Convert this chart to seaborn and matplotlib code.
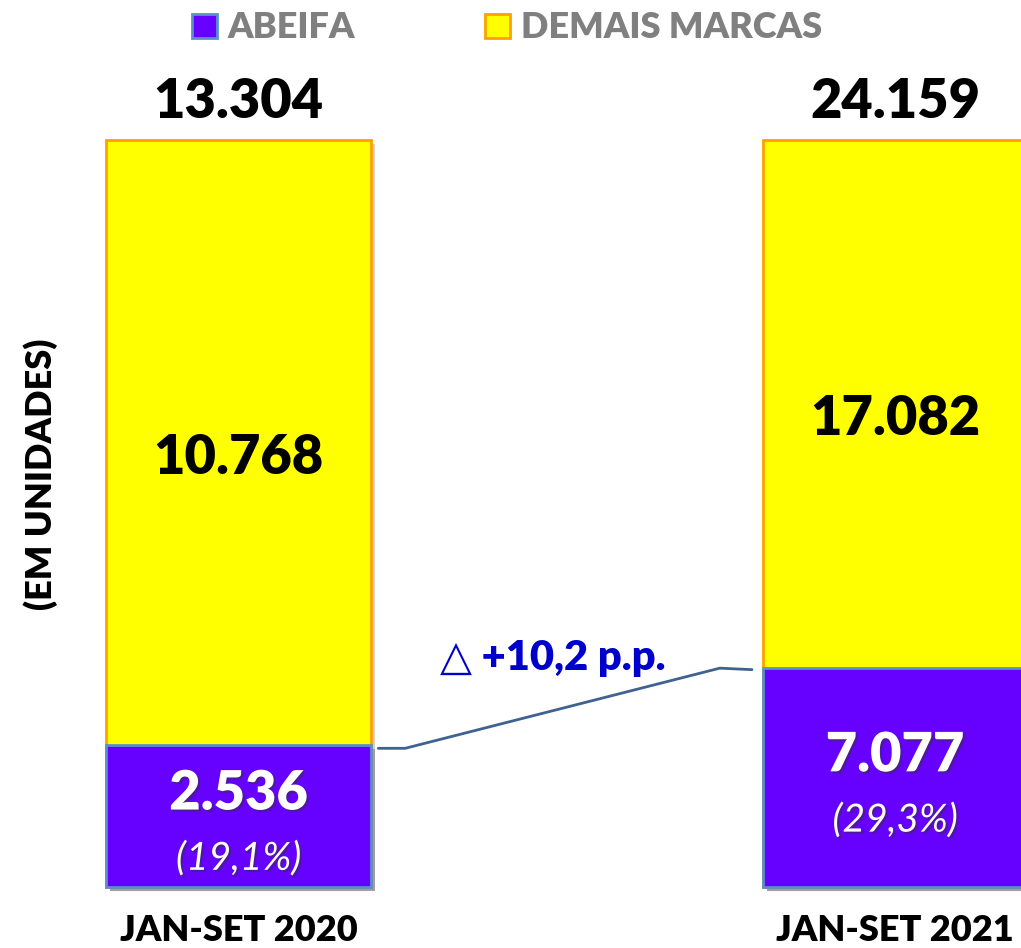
import numpy as np
import pandas as pd
import seaborn as sns
import matplotlib.pyplot as plt
import matplotlib.patheffects as pe
from matplotlib.patches import Patch

periods = ['JAN-SET 2020', 'JAN-SET 2021']
abeifa = [2536, 7077]
demais = [10768, 17082]
totals = [13304, 24159]
delta_label = '\u25b3 +10,2 p.p.'

shares = [100 * a / t for a, t in zip(abeifa, totals)]

sns.set_style('white')
plt.rcParams['font.family'] = ['Lato', 'DejaVu Sans']

PURPLE = '#6600FF'
YELLOW = '#FFFF00'
W = 'heavy'


def fmt(v):
    return f'{v:,}'.replace(',', '.')


df = pd.DataFrame({'period': periods, 'full': [100, 100], 'share': shares})

fig = plt.figure(figsize=(10.21, 9.48), dpi=100)
ax = fig.add_axes([0, 0, 1, 1])

width = 0.4037
shadow = [pe.SimplePatchShadow(offset=(3, -3), alpha=0.25), pe.Normal()]
sns.barplot(data=df, x='period', y='full', color=YELLOW, width=width,
            saturation=1, edgecolor='#FFA000', linewidth=2, ax=ax)
sns.barplot(data=df, x='period', y='share', color=PURPLE, width=width,
            saturation=1, edgecolor='#5B8FC8', linewidth=2, ax=ax)
for p in ax.patches:
    p.set_path_effects(shadow)

ax.set_xlim(-0.3633, 1.1919)
ax.set_ylim(-8.17, 118.74)
ax.axis('off')

txt_shadow = [pe.withSimplePatchShadow(offset=(1.5, -1.5), alpha=0.5, shadow_rgbFace='#333333')]
for i in range(2):
    ax.annotate(fmt(totals[i]), (i, 100), xytext=(0, 27), textcoords='offset points',
                ha='center', va='center', fontsize=39, fontweight=W, color='black')
    ymid = (shares[i] + 100) / 2
    ax.annotate(fmt(demais[i]), (i, ymid), xytext=(0, -11), textcoords='offset points',
                ha='center', va='center', fontsize=39, fontweight=W, color='black')
    pmid = shares[i] / 2
    ax.annotate(fmt(abeifa[i]), (i, pmid), xytext=(0, 16), textcoords='offset points',
                ha='center', va='center', fontsize=39, fontweight=W, color='white',
                path_effects=txt_shadow)
    ax.annotate(f'({shares[i]:.1f}%)'.replace('.', ','), (i, pmid), xytext=(0, -31),
                textcoords='offset points', ha='center', va='center', fontsize=28,
                fontstyle='italic', color='white', path_effects=txt_shadow)
    ax.annotate(periods[i], (i, 0), xytext=(0, -31), textcoords='offset points',
                ha='center', va='center', fontsize=26, fontweight=W, color='black')

# connector between the ABEIFA segments
edge = width / 2
xs = [edge + 0.011, edge + 0.052, 1 - edge - 0.065, 1 - edge - 0.016]
ys = [shares[0] - 0.5, shares[0] - 0.5, shares[1], shares[1] - 0.2]
ax.plot(xs, ys, color='#3F6290', lw=2)
ax.annotate(delta_label, (0.5, shares[1]), xytext=(-10, 7), textcoords='offset points',
            ha='center', va='center', fontsize=30, fontweight=W, color='#0000CC')

ax.text(0.04, 0.5, '(EM UNIDADES)', transform=fig.transFigure, rotation=90,
        ha='center', va='center', fontsize=26, fontweight=W, color='black')

handles = [Patch(facecolor=PURPLE, edgecolor='#5B8FC8', linewidth=2, label='ABEIFA'),
           Patch(facecolor=YELLOW, edgecolor='#FFA000', linewidth=2, label='DEMAIS MARCAS')]
fig.legend(handles=handles, loc='center left', bbox_to_anchor=(192 / 1021, 1 - 28 / 948),
           ncol=2, frameon=False, prop={'size': 26, 'weight': W}, labelcolor='#808080',
           borderpad=0, borderaxespad=0,
           handlelength=0.69, handleheight=0.67, handletextpad=0.3, columnspacing=3.6)

fig.savefig('out.png', dpi=100)
